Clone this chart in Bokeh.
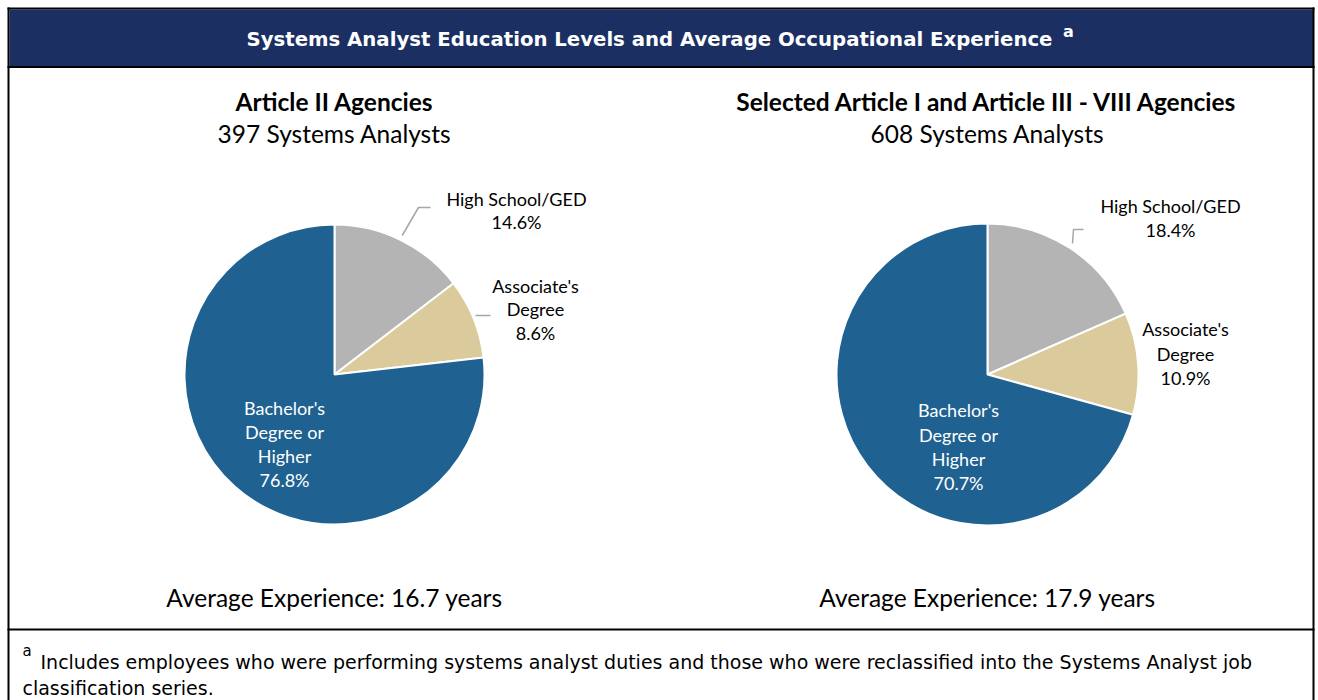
from math import pi
from bokeh.plotting import figure
from bokeh.models import Range1d
from bokeh.embed import file_html
from bokeh.resources import INLINE
from bokeh.core.properties import value

# ---------------- data ----------------
categories = ["High School/GED", "Associate's Degree", "Bachelor's Degree or Higher"]
left_values = [14.6, 8.6, 76.8]
right_values = [18.4, 10.9, 70.7]
slice_colors = ["#B4B4B4", "#DACA9C", "#1F6190"]
panel_titles = ["Article II Agencies", "Selected Article I and Article III - VIII Agencies"]
analyst_counts = [397, 608]
avg_experience = [16.7, 17.9]
chart_title = "Systems Analyst Education Levels and Average Occupational Experience"
footnote_1 = "Includes employees who were performing systems analyst duties and those who were reclassified into the Systems Analyst job"
footnote_2 = "classification series."

# ---------------- layout ----------------
OX, OY = 0, 0
W, H = 1318, 700
NAVY = "#1B2F63"
BODY_FONT = "Lato"
HEAD_FONT = "DejaVu Sans"

p = figure(width=W, height=H, output_backend="svg", toolbar_location=None,
           x_range=Range1d(OX, OX + W), y_range=Range1d(-(OY + H), -OY),
           min_border=0)
p.axis.visible = False
p.grid.visible = False
p.outline_line_color = None
p.background_fill_color = "white"
p.border_fill_color = "white"


def Y(y):
    return -y


def txt(x, y, s, size, color="black", font=BODY_FONT, bold=False, align="center"):
    p.text(x=[x], y=[Y(y)], text=[s], text_font=value(font),
           text_font_size=value(f"{size}px"), text_color=color,
           text_align=align, text_baseline="middle",
           text_font_style="bold" if bold else "normal")


# header band and frame
p.quad(left=[9], right=[1313], top=[Y(9)], bottom=[Y(66)], fill_color=NAVY, line_color=None)
p.multi_line(xs=[[8, 8], [1313, 1313], [7, 1314], [7, 1314], [7, 1314]],
             ys=[[Y(7), Y(702)], [Y(7), Y(702)], [Y(8), Y(8)], [Y(66.5), Y(66.5)], [Y(629), Y(629)]],
             line_color="black", line_width=2)

txt(649, 39, chart_title, 19.7, color="white", font=HEAD_FONT, bold=True)
txt(1068, 31, "a", 16, color="white", font=HEAD_FONT, bold=True)

# footnote
txt(22, 650, "a", 15, font=HEAD_FONT, align="left")
txt(40, 661, footnote_1, 19, font=HEAD_FONT, align="left")
txt(22, 687, footnote_2, 19, font=HEAD_FONT, align="left")


def pie(cx, cy, r, vals):
    total = sum(vals)
    starts, ends = [], []
    c = 0.0
    for v in vals:
        starts.append(pi / 2 - 2 * pi * c / total)
        c += v
        ends.append(pi / 2 - 2 * pi * c / total)
    p.wedge(x=[cx] * len(vals), y=[Y(cy)] * len(vals), radius=r,
            start_angle=starts, end_angle=ends, direction="clock",
            fill_color=slice_colors, line_color="white", line_width=2)


panels = [
    dict(cx=334, cy=374, r=150, vals=left_values,
         hs=(516, [198, 221]), asc=(535, [285, 308, 332]), ba=(284, [407, 431, 455, 479]),
         leaders=[([401.7, 418, 430], [235, 207, 207]), ([475, 490], [315, 315])]),
    dict(cx=987, cy=374, r=151, vals=right_values,
         hs=(1170, [205, 229]), asc=(1185, [328, 353, 377]), ba=(958, [409, 434, 458, 482]),
         leaders=[([1072, 1073, 1083], [243, 229, 229])]),
]

for i, pn in enumerate(panels):
    cx = pn["cx"]
    txt(cx, 101, panel_titles[i], 24.5, bold=True)
    txt(cx, 133, f"{analyst_counts[i]} Systems Analysts", 24.5)
    pie(cx, pn["cy"], pn["r"], pn["vals"])
    for xs, ys in pn["leaders"]:
        p.line(x=xs, y=[Y(v) for v in ys], line_color="#A6A6A6", line_width=1.5)
    v = pn["vals"]
    hx, hy = pn["hs"]
    for s, yy in zip(["High School/GED", f"{v[0]:.1f}%"], hy):
        txt(hx, yy, s, 18)
    ax, ay = pn["asc"]
    for s, yy in zip(["Associate's", "Degree", f"{v[1]:.1f}%"], ay):
        txt(ax, yy, s, 18)
    bx, by = pn["ba"]
    for s, yy in zip(["Bachelor's", "Degree or", "Higher", f"{v[2]:.1f}%"], by):
        txt(bx, yy, s, 18, color="white")
    txt(cx, 597, f"Average Experience: {avg_experience[i]} years", 24.5)

open("out.html", "w").write(file_html(p, INLINE))
